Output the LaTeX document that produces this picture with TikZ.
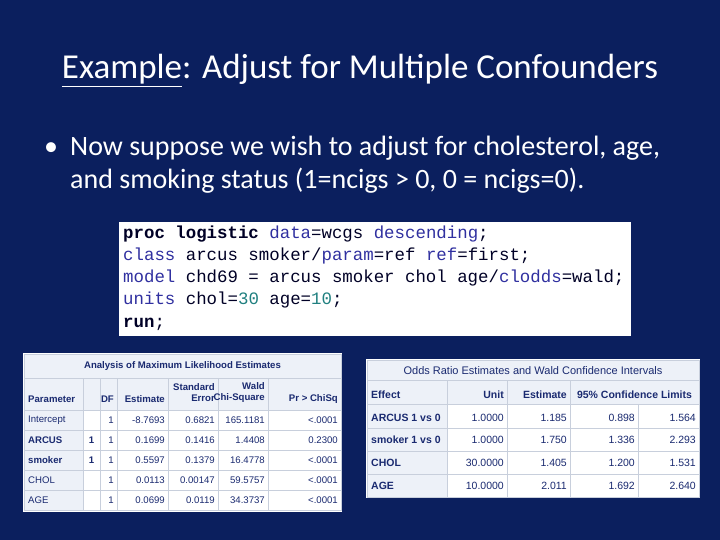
\documentclass[tikz,border=0pt]{standalone}
\usepackage{fontspec}
\setmainfont{Carlito}
\newfontfamily\tabfont{Liberation Sans}
\newfontfamily\codefont{Liberation Mono}
\definecolor{bg}{HTML}{0B1F5E}
\definecolor{hdr}{HTML}{EDF1F8}
\definecolor{tx}{HTML}{1A2A70}
\definecolor{kw}{HTML}{3030A0}
\definecolor{num}{HTML}{208080}
\definecolor{grid}{HTML}{C8CFDC}
\begin{document}
\begin{tikzpicture}[x=1pt,y=-1pt,
  ttl/.style={text=white,font=\fontsize{35}{40}\selectfont,anchor=base},
  body/.style={text=white,font=\fontsize{28}{32}\selectfont,anchor=base west,inner sep=0},
  code/.style={font=\codefont\fontsize{17.4}{20}\selectfont,anchor=base west,inner sep=0,text=black!85!blue},
  tl/.style={font=\tabfont\fontsize{10.5}{12}\selectfont,text=tx,inner sep=2pt},
  tb/.style={tl,font=\tabfont\bfseries\fontsize{10.5}{12}\selectfont},
  sl/.style={tl,font=\tabfont\fontsize{9.6}{11}\selectfont},
  sb/.style={tl,font=\tabfont\bfseries\fontsize{9.6}{11}\selectfont},
  tr/.style={tl,anchor=east},
  tw/.style={tl,anchor=west},
  hc/.style={fill=hdr,draw=grid,line width=0.5pt},
  dc/.style={fill=white,draw=grid,line width=0.5pt}]
\fill[bg] (0,0) rectangle (720,540);
\useasboundingbox (0,0) rectangle (720,540);
\node[ttl] (title) at (360,79) {\underline{Example}: Adjust for Multiple Confounders};
\node[body] (bul) at (44,156) {•};
\node[body] (l1) at (70,156) {Now suppose we wish to adjust for cholesterol, age,};
\node[body] (l2) at (70,189) {and smoking status (1=ncigs > 0, 0 = ncigs=0).};
% code box
\fill[white] (119,222) rectangle (631,336);
\node[code] (c1) at (123,238) {\textbf{proc logistic} \textcolor{kw}{data}=wcgs \textcolor{kw}{descending};};
\node[code] (c2) at (123,260) {\textcolor{kw}{class} arcus smoker/\textcolor{kw}{param}=ref \textcolor{kw}{ref}=first;};
\node[code] (c3) at (123,282) {\textcolor{kw}{model} chd69 = arcus smoker chol age/\textcolor{kw}{clodds}=wald;};
\node[code] (c4) at (123,304) {\textcolor{kw}{units} chol=\textcolor{num}{30} age=\textcolor{num}{10};};
\node[code] (c5) at (123,327) {\textbf{run};};
% table 1
\fill[white] (23,353) rectangle (342,512);
\draw[hc] (24,354) rectangle (341,378);
\node[sb] (t1t) at (182.5,366) {Analysis of Maximum Likelihood Estimates};
\foreach \a/\b in {24/83,83/100,100/117,117/168,168/218,218/268,268/341}
  \draw[hc] (\a,378) rectangle (\b,410);
\foreach \y in {410,430,450,470,490}{
  \draw[hc] (24,\y) rectangle (83,\y+20);
  \foreach \a/\b in {83/100,100/117,117/168,168/218,218/268,268/341}
    \draw[dc] (\a,\y) rectangle (\b,\y+20);}
\node[sb,anchor=west] (h1) at (26,399) {Parameter};
\node[sb,anchor=east] (h2) at (116,399) {DF};
\node[sb,anchor=east] (h3) at (167,399) {Estimate};
\node[sb,anchor=east,align=right] (h4) at (217,393) {Standard\\Error};
\node[sb,anchor=east,align=right] (h5) at (267,393) {Wald\\Chi-Square};
\node[sb,anchor=east] (h6) at (340,399) {Pr > ChiSq};
\foreach \n/\p/\l/\e/\s/\w/\pr [count=\i] in {
  Intercept/{}/1/-8.7693/0.6821/165.1181/<.0001,
  ARCUS/1/1/0.1699/0.1416/1.4408/0.2300,
  smoker/1/1/0.5597/0.1379/16.4778/<.0001,
  CHOL/{}/1/0.0113/0.00147/59.5757/<.0001,
  AGE/{}/1/0.0699/0.0119/34.3737/<.0001}{
  \pgfmathsetmacro\yy{400+20*\i}
  \ifnum\i=2 \node[sb,anchor=west] (p\i) at (26,\yy) {\n};
  \else\ifnum\i=3 \node[sb,anchor=west] (p\i) at (26,\yy) {\n};
  \else \node[sl,anchor=west] (p\i) at (26,\yy) {\n};\fi\fi
  \node[sb] (q\i) at (91.5,\yy) {\p};
  \node[sl,anchor=east] (d\i) at (116,\yy) {\l};
  \node[sl,anchor=east] (e\i) at (167,\yy) {\e};
  \node[sl,anchor=east] (s\i) at (217,\yy) {\s};
  \node[sl,anchor=east] (w\i) at (267,\yy) {\w};
  \node[sl,anchor=east] (r\i) at (340,\yy) {\pr};
}
% table 2
\fill[white] (366,359) rectangle (700,498);
\draw[hc] (367,360) rectangle (699,380);
\node[tl,font=\tabfont\fontsize{11}{12}\selectfont] (t2t) at (533,371) {Odds Ratio Estimates and Wald Confidence Intervals};
\foreach \a/\b in {367/447,447/507,507/570}
  \draw[hc] (\a,380) rectangle (\b,404);
\draw[hc] (570,380) rectangle (699,404);
\foreach \y/\h in {404/24,428/23,451/23,474/23}{
  \draw[hc] (367,\y) rectangle (447,\y+\h);
  \foreach \a/\b in {447/507,507/570,570/638,638/699}
    \draw[dc] (\a,\y) rectangle (\b,\y+\h);}
\node[tb,anchor=west] (g1) at (369,395) {Effect};
\node[tb,anchor=east] (g2) at (506,395) {Unit};
\node[tb,anchor=east] (g3) at (569,395) {Estimate};
\node[tb] (g4) at (634.5,395) {95\% Confidence Limits};
\foreach \n/\u/\e/\lo/\hi/\yy [count=\i] in {
  ARCUS 1 vs 0/1.0000/1.185/0.898/1.564/418,
  smoker 1 vs 0/1.0000/1.750/1.336/2.293/440,
  CHOL/30.0000/1.405/1.200/1.531/463,
  AGE/10.0000/2.011/1.692/2.640/486}{
  \node[tb,anchor=west] (f\i) at (369,\yy) {\n};
  \node[tr] (u\i) at (506,\yy) {\u};
  \node[tr] (o\i) at (569,\yy) {\e};
  \node[tr] (lo\i) at (637,\yy) {\lo};
  \node[tr] (hi\i) at (698,\yy) {\hi};
}
\end{tikzpicture}
\end{document}
